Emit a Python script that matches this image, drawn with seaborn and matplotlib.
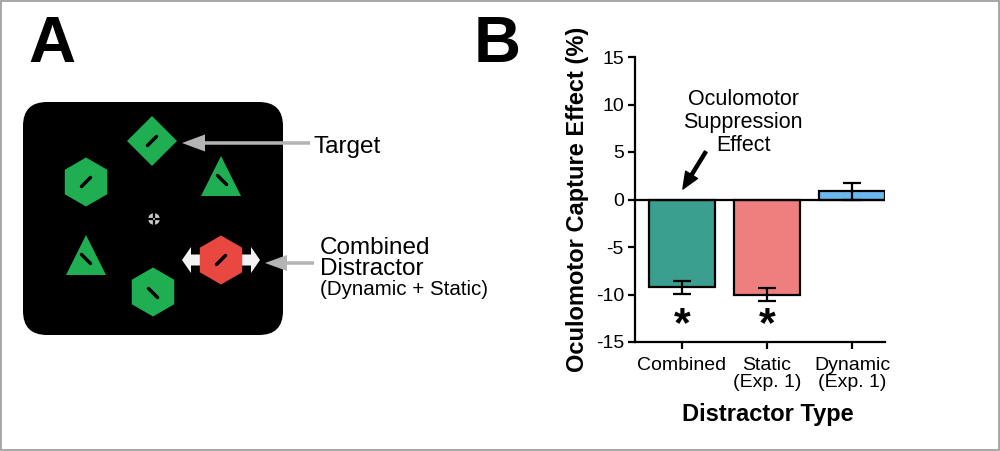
import pandas as pd
import seaborn as sns
import matplotlib.pyplot as plt
import matplotlib.patches as mpatches

# ---- panel B data ----
distractor_types = ['Combined', 'Static\n(Exp. 1)', 'Dynamic\n(Exp. 1)']
capture_effect = [-9.25, -10.0, 0.86]
capture_sem = [0.65, 0.64, 0.87]
significant = [True, True, False]
bar_colors = ['#3a9f8f', '#ef7f7f', '#6cb8ee']
y_ticks = [-15, -10, -5, 0, 5, 10, 15]

sns.set_theme(style='ticks')
plt.rcParams['font.family'] = ['Liberation Sans', 'DejaVu Sans']
plt.rcParams['axes.unicode_minus'] = False
plt.rcParams['text.color'] = 'black'
plt.rcParams['axes.labelcolor'] = 'black'
plt.rcParams['xtick.color'] = 'black'
plt.rcParams['ytick.color'] = 'black'

fig = plt.figure(figsize=(10, 4.51), dpi=100)

##############################
# Panel A: search display schematic (pixel coordinates)
##############################
pa = fig.add_axes([0, 0, 1, 1])
pa.set_xlim(0, 1000)
pa.set_ylim(451, 0)
pa.axis('off')

green = '#1fae52'
red = '#e8483f'
gray = '#b4b4b4'

pa.add_patch(mpatches.Rectangle((0.5, 0.5), 998.5, 449, fill=False, ec='#a0a0a0', lw=1.3))
pa.add_patch(mpatches.FancyBboxPatch((23, 102), 260, 233, boxstyle='round,pad=0,rounding_size=24',
                                     fc='black', ec='none'))

# hexagons: (cx, cy, color)
hexagons = [(86, 182, green), (153, 292, green), (221, 260, red)]
# dynamic distractor arrows behind the red hexagon
for dx in (-39, 39):
    pa.add_patch(mpatches.FancyArrow(221, 260, dx, 0, width=11, head_width=26, head_length=9,
                                     length_includes_head=True, fc='#f2f2f2', ec='none', zorder=2))
for cx, cy, col in hexagons:
    pa.add_patch(mpatches.RegularPolygon((cx, cy), 6, radius=24.5, orientation=0, fc=col, ec='none', zorder=3))

# diamond target
pa.add_patch(mpatches.Polygon([(152, 116), (177, 141), (152, 166), (127, 141)], fc=green, ec='none', zorder=3))
# triangles
pa.add_patch(mpatches.Polygon([(221, 156), (241, 196), (201, 196)], fc=green, ec='none', zorder=3))
pa.add_patch(mpatches.Polygon([(86, 235), (106, 275), (66, 275)], fc=green, ec='none', zorder=3))

# inner line segments
segments = [(86, 182, '/'), (153, 293, '\\'), (221, 260, '/'), (152, 141, '/'), (222, 180, '\\'), (86, 259, '\\')]
for cx, cy, d in segments:
    s = 4.5
    if d == '/':
        xs, ys = [cx - s, cx + s], [cy + s, cy - s]
    else:
        xs, ys = [cx - s, cx + s], [cy - s, cy + s]
    pa.plot(xs, ys, color='black', lw=2.5, solid_capstyle='round', zorder=4)

# fixation
pa.add_patch(mpatches.Circle((154, 219), 5.8, fc='#c8c8c8', ec='none', zorder=3))
pa.plot([154, 154], [212, 226], color='black', lw=1.6, zorder=4)
pa.plot([147, 161], [219, 219], color='black', lw=1.6, zorder=4)
pa.add_patch(mpatches.Circle((154, 219), 1.0, fc='#c8c8c8', ec='none', zorder=5))

# pointer arrows
pa.add_patch(mpatches.FancyArrow(310, 143, -128, 0, width=3.5, head_width=17, head_length=23,
                                 length_includes_head=True, fc=gray, ec='none'))
pa.add_patch(mpatches.FancyArrow(314, 263, -49, 0, width=3.5, head_width=16, head_length=22,
                                 length_includes_head=True, fc=gray, ec='none'))

pa.text(313, 152.5, 'Target', fontsize=17.5, va='baseline', ha='left')
pa.text(320, 275, 'Combined\nDistractor', fontsize=17.5, va='baseline', ha='left', linespacing=0.95)
pa.text(320, 295, '(Dynamic + Static)', fontsize=14.8, va='baseline', ha='left')

pa.text(28, 62, 'A', fontsize=47, fontweight='bold', va='baseline', ha='left')
pa.text(474, 62, 'B', fontsize=47, fontweight='bold', va='baseline', ha='left')

##############################
# Panel B: bar chart
##############################
ax = fig.add_axes([0.635, 1 - 342 / 451, 0.25, 285 / 451])
ax.set_facecolor('none')
df = pd.DataFrame({'type': distractor_types, 'effect': capture_effect})
sns.barplot(data=df, x='type', y='effect', hue='type', palette=bar_colors, order=distractor_types,
            errorbar=None, width=0.78, saturation=1, edgecolor='black', linewidth=1.6,
            legend=False, ax=ax)
ax.errorbar(range(len(distractor_types)), capture_effect, yerr=capture_sem, fmt='none',
            ecolor='black', elinewidth=1.6, capsize=6.5, capthick=1.6, zorder=3)
ax.axhline(0, color='black', lw=1.6, zorder=4)

ax.set_ylim(-15, 15)
ax.set_xlim(-0.553, 2.388)
ax.set_yticks(y_ticks)
ax.set_yticklabels([str(t) for t in y_ticks])
sns.despine(ax=ax)
for side in ['left', 'bottom']:
    ax.spines[side].set_linewidth(1.6)
    ax.spines[side].set_color('black')
ax.tick_params(axis='both', direction='out', length=5, width=1.6, colors='black', labelsize=14)
ax.tick_params(axis='y', pad=3)
ax.tick_params(axis='x', pad=6)
for lbl in ax.get_xticklabels():
    lbl.set_linespacing(1.0)

ax.set_ylabel('Oculomotor Capture Effect (%)', fontsize=17, fontweight='bold')
ax.yaxis.set_label_coords(-0.185, 0.5)
ax.set_xlabel('Distractor Type', fontsize=17, fontweight='bold')
ax.xaxis.set_label_coords(0.532, -0.214)

for i, sig in enumerate(significant):
    if sig:
        ax.text(i, -13.25, '*', ha='center', va='center', fontsize=31, fontweight='bold')

ax.text(0.72, 8.1, 'Oculomotor\nSuppression\nEffect', ha='center', va='center',
        fontsize=15.5, linespacing=1.1)
ax.annotate('', xy=(0.01, 1.1), xytext=(0.28, 5.03),
            arrowprops=dict(facecolor='black', edgecolor='black', width=2.2, headwidth=10,
                            headlength=12, shrink=0))

fig.savefig('out.png', dpi=100)
